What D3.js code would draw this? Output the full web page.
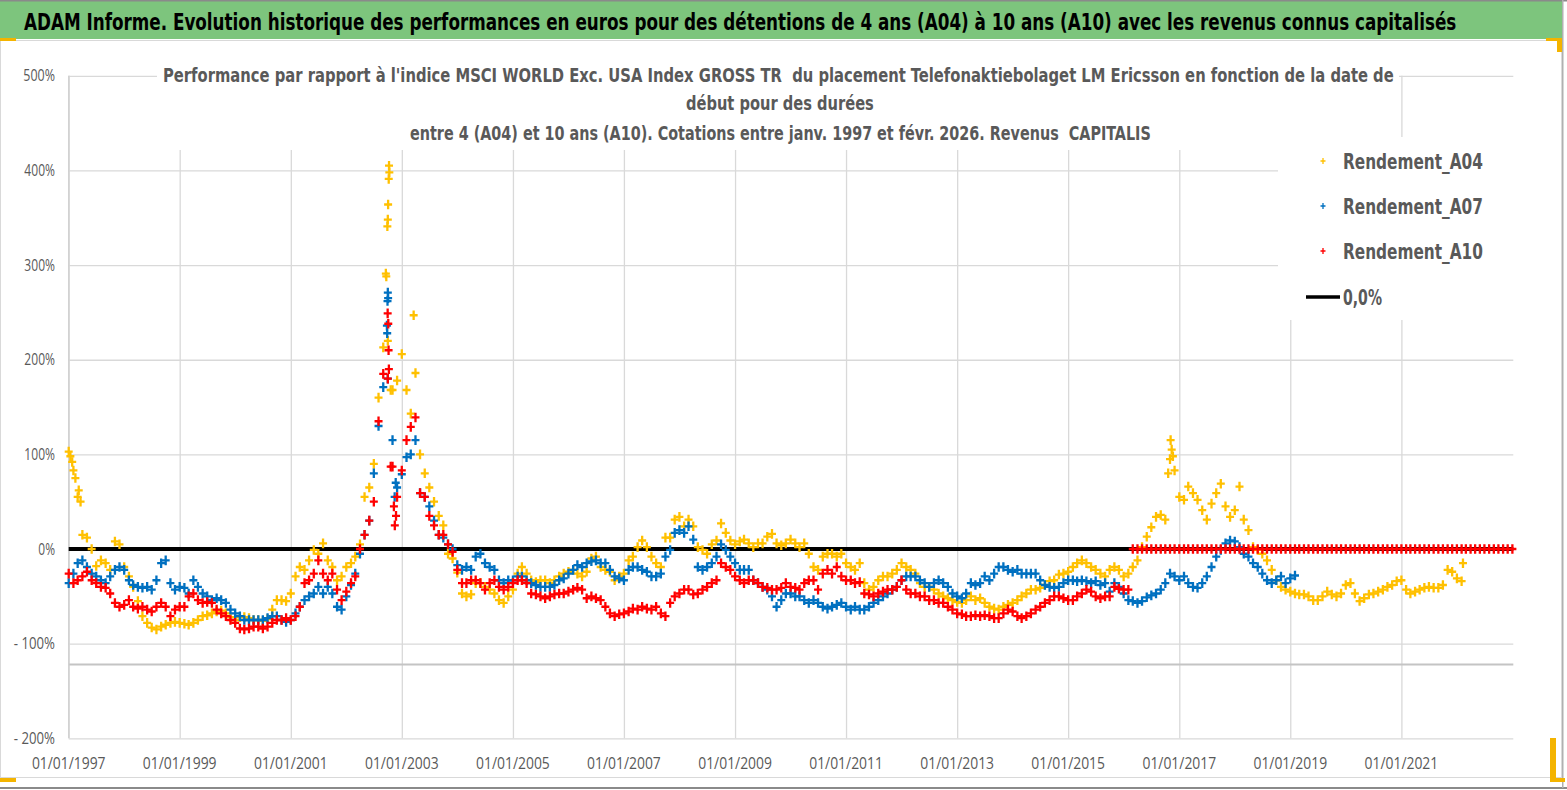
<!DOCTYPE html>
<html>
<head>
<meta charset="utf-8">
<script src="https://cdn.jsdelivr.net/npm/d3@7"></script>
<style>
  body { margin: 0; background: #fff; }
  svg { display: block; font-family: "Liberation Sans Narrow", "DejaVu Sans Condensed", "Open Sans", sans-serif; }
  text { white-space: pre; }
</style>
</head>
<body>
<div id="chart"></div>
<script>
// monthly readings (%), first value = January 1997
var a04Start = "1997-01";
var a04 = [
  103, 83, 55, 15, 12, 0, -18, -12, -15, -22, 8, 5,
  -19, -29, -40, -55, -71, -78, -83, -85, -82, -80, -78, -77,
  -78, -79, -80, -78, -75, -71, -70, -68, -66, -65, -68, -72,
  -75, -72, -72, -73, -75, -75, -76, -74, -64, -54, -54, -55,
  -47, -29, -19, -22, -12, -1, -5, 6, -12, -19, -33, -29,
  -19, -15, -8, 5, 55, 65, 90, 160, 213, 220, 168, 178,
  206, 168, 143, 186, 100, 80, 65, 50, 35, 25, -5, -10,
  -25, -47, -50, -48, -36, -36, -40, -43, -47, -54, -57, -50,
  -43, -26, -19, -26, -33, -35, -33, -33, -36, -33, -29, -26,
  -24, -22, -26, -29, -24, -10, -8, -19, -22, -24, -33, -29,
  -26, -12, -8, 2, 9, 2, -8, -15, -19, 12, 12, 31,
  34, 24, 31, 24, 2, -1, -5, 5, 9, 27, 17, 9,
  5, 8, 10, 6, 2, 6, 6, 13, 16, 6, 4, 6,
  10, 6, 2, 6, -5, -19, -22, -8, -5, -5, -8, -5,
  -15, -19, -22, -15, -36, -43, -40, -33, -29, -29, -26, -22,
  -15, -19, -22, -26, -36, -40, -40, -43, -47, -50, -52, -54,
  -56, -57, -54, -50, -54, -52, -57, -61, -63, -64, -61, -59,
  -57, -54, -50, -47, -43, -43, -41, -38, -34, -33, -27, -26,
  -24, -19, -15, -12, -15, -19, -22, -26, -29, -22, -19, -22,
  -29, -26, -19, -12, 2, 13, 23, 34, 36, 31, 95, 83,
  55, 52, 66, 59, 52, 41, 31, 48, 59, 69, 45, 34,
  41, 66, 31, 20, 2, -1, -5, -12, -22, -33, -40, -43,
  -45, -47, -48, -48, -50, -54, -54, -50, -45, -48, -50, -47,
  -38, -36, -47, -55, -52, -48, -47, -45, -43, -40, -38, -34,
  -33, -43, -47, -45, -43, -41, -40, -41, -41, -38, -22, -24,
  -31, -34
];
// isolated readings between the monthly ones
var a04Extra = [
  ["1997-01-12", 98], ["1997-01-24", 92], ["1997-02-14", 75], ["1997-03-08", 62], ["1997-03-20", 50],
  ["2002-09-18", 291], ["2002-09-21", 288], ["2002-09-28", 341], ["2002-10-01", 348],
  ["2002-10-03", 364], ["2002-10-07", 391], ["2002-10-09", 405], ["2002-10-11", 398],
  ["2002-10-20", 168], ["2003-03-20", 247],
  ["2016-10-20", 80], ["2016-11-05", 115], ["2016-11-12", 105], ["2016-11-20", 98],
  ["2022-02-10", -15]
];

var a07Start = "1997-01";
var a07 = [
  -36, -26, -15, -12, -19, -26, -29, -33, -36, -29, -22, -19,
  -22, -33, -38, -40, -41, -40, -43, -33, -15, -12, -36, -43,
  -40, -41, -47, -33, -40, -47, -50, -54, -52, -54, -57, -64,
  -68, -71, -75, -75, -75, -75, -75, -73, -71, -71, -75, -77,
  -75, -68, -61, -54, -50, -47, -40, -47, -40, -47, -61, -64,
  -50, -38, -26, -5, 15, 30, 80, 130, 171, 180, 115, 65,
  79, 97, 100, 115, 59, 55, 45, 30, 15, 12, 5, 0,
  -17, -22, -19, -22, -8, -5, -15, -19, -22, -33, -36, -33,
  -33, -29, -29, -33, -36, -38, -40, -40, -40, -38, -33, -31,
  -26, -22, -17, -19, -15, -13, -12, -15, -15, -22, -29, -31,
  -33, -22, -19, -19, -22, -24, -29, -29, -26, -8, -1, 17,
  20, 17, 24, 10, -19, -22, -19, -15, -8, 5, -1, -8,
  -15, -22, -22, -22, -33, -36, -40, -43, -50, -61, -54, -47,
  -47, -50, -50, -54, -57, -54, -57, -61, -63, -61, -59, -57,
  -61, -64, -61, -64, -64, -61, -57, -54, -50, -47, -43, -40,
  -33, -29, -29, -29, -33, -36, -40, -36, -33, -36, -40, -47,
  -50, -52, -47, -36, -38, -36, -29, -33, -26, -19, -19, -22,
  -24, -22, -26, -26, -26, -26, -33, -38, -40, -41, -40, -36,
  -33, -33, -34, -33, -34, -36, -34, -38, -36, -45, -36, -40,
  -47, -54, -55, -57, -55, -51, -49, -47, -43, -36, -26, -29,
  -33, -29, -36, -40, -41, -36, -29, -19, -8, -1, 6, 9,
  8, 2, -5, -8, -15, -19, -26, -33, -36, -33, -29, -36,
  -31, -28
];
var a07Extra = [
  ["2002-09-25", 236], ["2002-09-27", 228], ["2002-09-29", 262], ["2002-10-01", 271],
  ["2002-10-03", 265], ["2002-11-15", 55], ["2002-11-22", 70]
];

var a10Start = "1997-01";
var a10 = [
  -26, -36, -33, -29, -24, -33, -36, -40, -41, -47, -57, -61,
  -59, -54, -61, -63, -61, -64, -66, -61, -57, -61, -71, -64,
  -61, -61, -50, -47, -54, -57, -56, -57, -64, -68, -71, -75,
  -78, -84, -85, -84, -82, -82, -84, -82, -78, -75, -75, -73,
  -75, -71, -61, -36, -33, -26, -12, -26, -33, -26, -43, -54,
  -45, -36, -29, 0, 15, 30, 50, 135, 185, 180, 87, 55,
  83, 115, 129, 139, 59, 55, 35, 25, 15, 15, 5, -3,
  -22, -36, -36, -33, -33, -36, -43, -36, -33, -40, -43, -40,
  -36, -33, -33, -36, -47, -48, -50, -52, -50, -48, -47, -47,
  -45, -43, -41, -43, -52, -50, -52, -54, -61, -68, -71, -69,
  -68, -66, -63, -64, -61, -63, -64, -61, -68, -71, -57, -50,
  -47, -43, -43, -48, -47, -43, -40, -36, -33, -15, -19, -22,
  -29, -33, -36, -33, -33, -36, -40, -41, -43, -43, -41, -36,
  -40, -41, -43, -36, -33, -33, -43, -26, -22, -26, -19, -29,
  -33, -33, -36, -35, -47, -48, -50, -47, -45, -43, -43, -40,
  -33, -43, -47, -47, -50, -50, -54, -54, -57, -57, -61, -64,
  -68, -69, -71, -71, -70, -71, -70, -71, -73, -73, -68, -64,
  -66, -71, -73, -71, -68, -64, -61, -57, -54, -50, -50, -52,
  -54, -54, -50, -47, -43, -45, -50, -52, -50, -50, -40, -42,
  -43, -43,
  // no 10-year window after Feb 2016: plotted as 0
                0, 0, 0, 0, 0, 0, 0, 0, 0, 0,
  0, 0, 0, 0, 0, 0, 0, 0, 0, 0, 0, 0,
  0, 0, 0, 0, 0, 0, 0, 0, 0, 0, 0, 0,
  0, 0, 0, 0, 0, 0, 0, 0, 0, 0, 0, 0,
  0, 0, 0, 0, 0, 0, 0, 0, 0, 0, 0, 0,
  0, 0, 0, 0, 0, 0, 0, 0, 0, 0, 0, 0,
  0, 0, 0, 0, 0, 0, 0, 0, 0, 0, 0, 0,
  0
];
var a10Extra = [
  ["2002-09-30", 249], ["2002-10-04", 238], ["2002-10-06", 210], ["2002-10-08", 190],
  ["2002-10-20", 87], ["2002-11-10", 45], ["2002-11-16", 25], ["2002-11-24", 35]
];

var yTicks = [-200, -100, 0, 100, 200, 300, 400, 500];
var xTicks = ["01/01/1997", "01/01/1999", "01/01/2001", "01/01/2003", "01/01/2005", "01/01/2007",
  "01/01/2009", "01/01/2011", "01/01/2013", "01/01/2015", "01/01/2017", "01/01/2019", "01/01/2021"];
var axisCross = -122;

var seriesNames = ["Rendement_A04", "Rendement_A07", "Rendement_A10"];
var seriesColors = ["#FFC000", "#0070C0", "#FF0000"];

var bannerText = "ADAM Informe. Evolution historique des performances en euros pour des détentions de 4 ans (A04) à 10 ans (A10) avec les revenus connus capitalisés";
var titleLines = [
  "Performance par rapport à l'indice MSCI WORLD Exc. USA Index GROSS TR  du placement Telefonaktiebolaget LM Ericsson en fonction de la date de",
  "début pour des durées",
  "entre 4 (A04) et 10 ans (A10). Cotations entre janv. 1997 et févr. 2026. Revenus  CAPITALIS"
];

var svgWidth = 1567;
var svgHeight = 790;
var plot = { left: 68.7, right: 1513.3, top: 75.8, bottom: 738.3 };
var textColor = "#595959";

var parseMonth = d3.timeParse("%Y-%m");
var parseDay = d3.timeParse("%Y-%m-%d");
var parseTick = d3.timeParse("%d/%m/%Y");

function monthly(start, values) {
  var d0 = parseMonth(start);
  return values.map(function(v, i) {
    return { date: d3.timeMonth.offset(d0, i), value: v };
  });
}
function extra(list) {
  return list.map(function(p) { return { date: parseDay(p[0]), value: p[1] }; });
}

var series = [
  monthly(a04Start, a04).concat(extra(a04Extra)),
  monthly(a07Start, a07).concat(extra(a07Extra)),
  monthly(a10Start, a10).concat(extra(a10Extra))
];

var svg = d3.select("#chart")
  .append("svg")
  .attr("width", svgWidth)
  .attr("height", svgHeight);

var xScale = d3.scaleTime()
  .domain([new Date(1997, 0, 1), new Date(2023, 0, 7)])
  .range([plot.left, plot.right]);

var yScale = d3.scaleLinear()
  .domain([-200, 500])
  .range([plot.bottom, plot.top]);

// narrow text: scale a text horizontally around its anchor so it spans `w` px
function fitText(parent, x, y, w, str, size, weight, anchor) {
  var g = parent.append("g").attr("transform", `translate(${x}, ${y})`);
  var t = g.append("text")
    .attr("font-size", size)
    .attr("font-weight", weight || "normal")
    .attr("text-anchor", anchor || "start")
    .text(str);
  var k = w / t.node().getComputedTextLength();
  g.attr("transform", `translate(${x}, ${y}) scale(${k}, 1)`);
  return t;
}

// outer frame, banner
svg.append("rect")
  .attr("x", 0.5).attr("y", 40.5)
  .attr("width", 1561).attr("height", 737)
  .attr("fill", "#fff").attr("stroke", "#d9d9d9");

svg.append("rect")
  .attr("x", 0).attr("y", 1)
  .attr("width", 1562).attr("height", 38)
  .attr("fill", "#7DC57D");

svg.append("rect").attr("x", 0).attr("y", 0).attr("width", svgWidth).attr("height", 1.5).attr("fill", "#8a8a8a");
svg.append("rect").attr("x", 0).attr("y", 787).attr("width", svgWidth).attr("height", 2).attr("fill", "#8a8a8a");
svg.append("rect").attr("x", 1562).attr("y", 0).attr("width", 1.5).attr("height", 788).attr("fill", "#b0b0b0");

fitText(svg, 24, 29.5, 1433, bannerText, 23, "bold").attr("fill", "#000");

// gridlines
var chartGroup = svg.append("g");

chartGroup.append("g")
  .attr("transform", `translate(${plot.left}, 0)`)
  .call(d3.axisLeft(yScale).tickValues(yTicks).tickSize(-(plot.right - plot.left)).tickFormat(""))
  .call(g => g.select(".domain").remove())
  .call(g => g.selectAll("line").attr("stroke", "#d9d9d9").attr("stroke-width", 1.3));

chartGroup.append("g")
  .attr("transform", `translate(0, ${plot.bottom})`)
  .call(d3.axisBottom(xScale).tickValues(xTicks.map(parseTick)).tickSize(-(plot.bottom - plot.top)).tickFormat(""))
  .call(g => g.select(".domain").remove())
  .call(g => g.selectAll("line").attr("stroke", "#d9d9d9").attr("stroke-width", 1.3));

// horizontal axis line (crosses low)
chartGroup.append("line")
  .attr("x1", plot.left).attr("x2", plot.right)
  .attr("y1", yScale(axisCross)).attr("y2", yScale(axisCross))
  .attr("stroke", "#c4c4c4").attr("stroke-width", 1.8);

// title and legend boxes sit over the plot area
svg.append("rect").attr("x", 157).attr("y", 58).attr("width", 1242).attr("height", 92).attr("fill", "#fff");
svg.append("rect").attr("x", 1278).attr("y", 137).attr("width", 236).attr("height", 183).attr("fill", "#fff");

var titleSpecs = [
  { x: 163, y: 82, w: 1231 },
  { x: 686, y: 110, w: 188 },
  { x: 410, y: 140, w: 741 }
];
titleLines.forEach(function(line, i) {
  fitText(svg, titleSpecs[i].x, titleSpecs[i].y, titleSpecs[i].w, line, 19, "bold").attr("fill", textColor);
});

// axis labels
var yLabel = d => d < 0 ? "- " + Math.abs(d) + "%" : d + "%";
var yLabelW = { "-200": 42, "-100": 42, "0": 17, "100": 31, "200": 31, "300": 31, "400": 31, "500": 32 };
var yAxisG = svg.append("g");
yTicks.forEach(function(v) {
  fitText(yAxisG, 55, yScale(v) + 5.5, yLabelW[v], yLabel(v), 16, "normal", "end")
    .attr("fill", textColor).attr("font-family", "Open Sans, sans-serif");
});

var xAxisG = svg.append("g");
xTicks.forEach(function(s) {
  fitText(xAxisG, xScale(parseTick(s)), 769, 72, s, 16.5, "normal", "middle")
    .attr("fill", textColor).attr("font-family", "Open Sans, sans-serif");
});

// left axis line
chartGroup.append("line")
  .attr("x1", plot.left).attr("x2", plot.left)
  .attr("y1", plot.top).attr("y2", plot.bottom)
  .attr("stroke", "#d0d0d0").attr("stroke-width", 1.3);

// 0,0% reference line
svg.append("line")
  .attr("x1", plot.left).attr("x2", plot.right)
  .attr("y1", yScale(0)).attr("y2", yScale(0))
  .attr("stroke", "#000").attr("stroke-width", 4);

function plusPath(w, h) {
  return `M${-w},0H${w}M0,${-h}V${h}`;
}

series.forEach(function(data, i) {
  svg.append("g")
    .selectAll("path")
    .data(data)
    .enter()
    .append("path")
    .attr("transform", d => `translate(${xScale(d.date)}, ${yScale(d.value)})`)
    .attr("d", plusPath(4, 4.8))
    .attr("fill", "none")
    .attr("stroke", seriesColors[i])
    .attr("stroke-width", 2.3);
});

// legend
var legendRows = [161, 206, 251];
var legend = svg.append("g");
seriesNames.forEach(function(name, i) {
  legend.append("path")
    .attr("transform", `translate(1323, ${legendRows[i]})`)
    .attr("d", plusPath(2.5, 3))
    .attr("fill", "none")
    .attr("stroke", seriesColors[i])
    .attr("stroke-width", 1.3);
  fitText(legend, 1343, legendRows[i] + 7.5, 140, name, 21, "bold").attr("fill", textColor);
});
legend.append("line")
  .attr("x1", 1306).attr("x2", 1340)
  .attr("y1", 297).attr("y2", 297)
  .attr("stroke", "#000").attr("stroke-width", 3.5);
fitText(legend, 1343, 304.5, 39, "0,0%", 21, "bold").attr("fill", textColor);

// selection handles
var handles = [
  [0, 38, 16, 3], [1546, 38, 16, 3], [1557, 38, 5, 14],
  [0, 778, 16, 4], [1550, 738, 6, 44], [1550, 778, 15, 4]
];
svg.selectAll(".handle")
  .data(handles)
  .enter()
  .append("rect")
  .attr("class", "handle")
  .attr("x", d => d[0]).attr("y", d => d[1])
  .attr("width", d => d[2]).attr("height", d => d[3])
  .attr("fill", "#F4B400");
</script>
</body>
</html>
